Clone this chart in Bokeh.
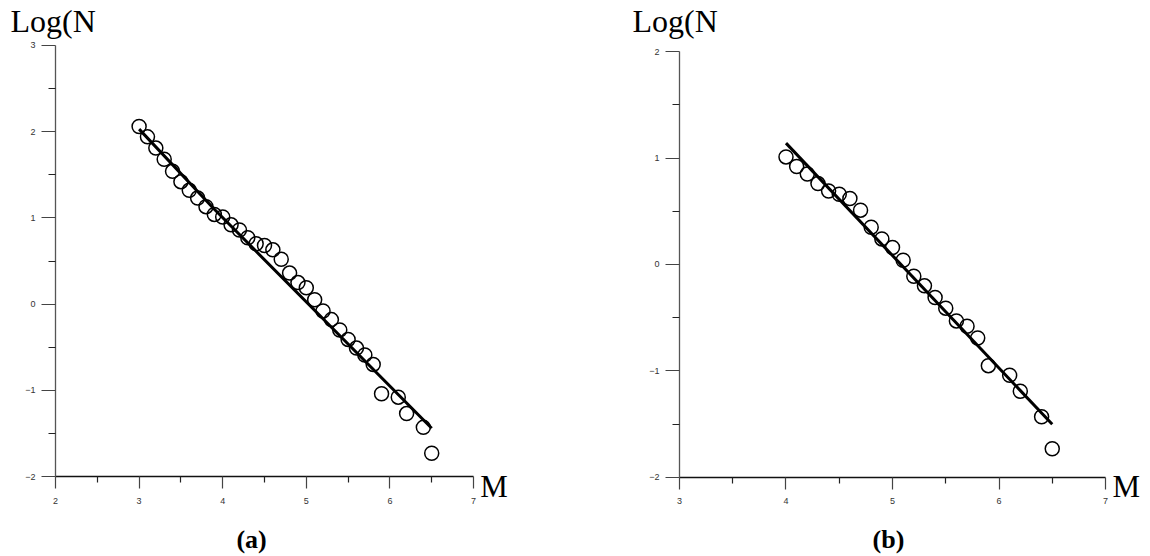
from bokeh.plotting import figure
from bokeh.layouts import row
from bokeh.models import Range1d, Label, FixedTicker
from bokeh.embed import file_html
from bokeh.resources import INLINE

# Magnitude-frequency data: log of cumulative count vs magnitude
mag_a = [3.0, 3.1, 3.2, 3.3, 3.4, 3.5, 3.6, 3.7, 3.8, 3.9,
         4.0, 4.1, 4.2, 4.3, 4.4, 4.5, 4.6, 4.7, 4.8, 4.9,
         5.0, 5.1, 5.2, 5.3, 5.4, 5.5, 5.6, 5.7, 5.8, 5.9,
         6.1, 6.2, 6.4, 6.5]
logn_a = [2.06, 1.94, 1.81, 1.68, 1.54, 1.42, 1.32, 1.23, 1.13, 1.04,
          1.01, 0.92, 0.86, 0.77, 0.70, 0.68, 0.63, 0.52, 0.36, 0.25,
          0.19, 0.05, -0.08, -0.18, -0.30, -0.41, -0.51, -0.59, -0.70, -1.04,
          -1.08, -1.27, -1.43, -1.73]
fit_mag_a = [3.0, 3.9, 6.5]
fit_logn_a = [2.03, 1.10, -1.44]

mag_b = [4.0, 4.1, 4.2, 4.3, 4.4, 4.5, 4.6, 4.7, 4.8, 4.9,
         5.0, 5.1, 5.2, 5.3, 5.4, 5.5, 5.6, 5.7, 5.8, 5.9,
         6.1, 6.2, 6.4, 6.5]
logn_b = [1.01, 0.92, 0.85, 0.76, 0.69, 0.66, 0.62, 0.51, 0.35, 0.24,
          0.16, 0.04, -0.11, -0.20, -0.31, -0.41, -0.53, -0.58, -0.69, -0.95,
          -1.04, -1.19, -1.43, -1.73]
fit_mag_b = [4.0, 6.5]
fit_logn_b = [1.14, -1.50]

SERIF = "Liberation Serif"
SANS = "Liberation Sans"
W, H = 575, 556


def panel(xs, ys, fx, fy, xview, yview, xaxis_b, yaxis_b, texts):
    # the frame fills the whole figure; axes sit at fixed positions inside it
    p = figure(x_range=Range1d(*xview), y_range=Range1d(*yview),
               frame_width=W, frame_height=H,
               min_border_left=0, min_border_right=0,
               min_border_top=0, min_border_bottom=0,
               output_backend="svg", toolbar_location=None)
    p.outline_line_color = None
    p.xgrid.visible = False
    p.ygrid.visible = False
    p.background_fill_color = "white"
    p.border_fill_color = "white"

    p.xaxis.fixed_location = yaxis_b[0]
    p.yaxis.fixed_location = xaxis_b[0]

    for ax, (lo, hi) in ((p.xaxis[0], xaxis_b), (p.yaxis[0], yaxis_b)):
        ticks = list(range(int(lo), int(hi) + 1))
        ax.ticker = FixedTicker(ticks=ticks,
                                minor_ticks=[t + 0.5 for t in ticks[:-1]])
        ax.bounds = (lo, hi)
        ax.major_tick_in = 0
        ax.minor_tick_in = 0
        ax.major_label_text_font = SANS
        ax.major_label_text_font_size = "9px"
        ax.major_label_text_color = "#333333"
        ax.minor_tick_line_color = "#222222"
        ax.major_tick_line_color = "#444444"
        ax.major_tick_line_width = 1.2
        ax.minor_tick_line_width = 1.2
    p.xaxis.major_tick_out = 12
    p.xaxis.minor_tick_out = 6
    p.xaxis.major_label_standoff = 9
    p.xaxis.axis_line_color = "#111111"
    p.xaxis.axis_line_width = 1.3
    p.yaxis.major_tick_out = 14
    p.yaxis.minor_tick_out = 7
    p.yaxis.major_label_standoff = 6
    p.yaxis.axis_line_color = "#555555"
    p.yaxis.axis_line_width = 1.3

    p.line(fx, fy, line_color="black", line_width=3)
    p.scatter(xs, ys, marker="circle", size=14, fill_color=None,
              line_color="black", line_width=1.5)

    for tx, ty, txt, size, style, align in texts:
        p.add_layout(Label(x=tx, y=ty, text=txt, text_font=SERIF,
                           text_font_size=size, text_font_style=style,
                           text_align=align, text_baseline="alphabetic",
                           text_color="black"))
    return p


pa = panel(mag_a, logn_a, fit_mag_a, fit_logn_a,
           (1.342, 8.220), (-2.928, 3.522), (2, 7), (-2, 3),
           [(1.462, 3.283, "Log(N", "32px", "normal", "left"),
            (7.08, -2.117, "M", "31px", "normal", "left"),
            (4.345, -2.729, "(a)", "26px", "bold", "center")])

pb = panel(mag_b, logn_b, fit_mag_b, fit_logn_b,
           (2.0235, 7.4225), (-2.742, 2.479), (3, 7), (-2, 2),
           [(2.559, 2.282, "Log(N", "32px", "normal", "left"),
            (7.066, -2.088, "M", "31px", "normal", "left"),
            (4.962, -2.582, "(b)", "26px", "bold", "center")])

layout = row(pa, pb)
open("out.html", "w").write(file_html(layout, INLINE))
